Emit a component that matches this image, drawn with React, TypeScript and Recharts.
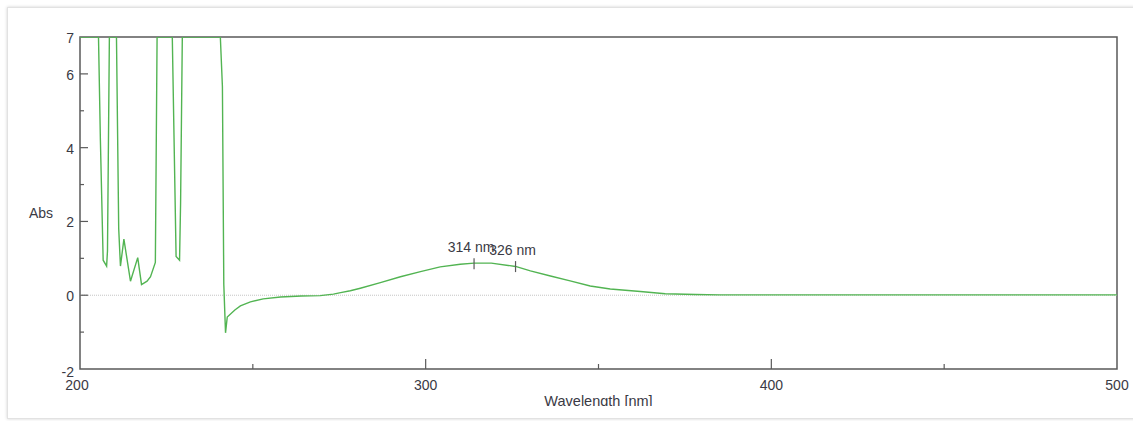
import { LineChart, Line, XAxis, YAxis, ReferenceLine, ReferenceArea, ReferenceDot } from 'recharts';

// absorbance spectrum, values (7 = detector saturation)
const wavelengths = [
  200, 205.35, 205.9, 206.7, 207.7, 207.95, 208.5, 210.55, 211.2, 211.7, 212.7, 214.6, 216.7, 217.8,
  219.4, 220.4, 221.8, 222.3, 226.7, 227.8, 228.8, 229.1, 229.6, 240.6, 241.2, 241.6, 242.1, 242.6,
  244.8, 246.4, 249.3, 253, 258, 264, 269.5, 273.3, 275.4, 278.2, 281.1, 286.9, 292.7, 298.5, 304.2,
  310, 314, 319, 326, 330.3, 336.1, 341.8, 347.6, 353.4, 362.1, 369.3, 378, 385.2, 400, 430, 460, 500,
];
const absorbance = [
  7, 7, 4.2, 0.95, 0.79, 1.2, 7, 7, 1.8, 0.79, 1.52, 0.38, 1.02, 0.29,
  0.38, 0.5, 0.89, 7, 7, 1.05, 0.95, 2.5, 7, 7, 5.66, 0.3, -1.02, -0.59,
  -0.4, -0.29, -0.18, -0.1, -0.05, -0.02, -0.01, 0.03, 0.07, 0.12, 0.19, 0.34, 0.5, 0.64, 0.77,
  0.84, 0.87, 0.87, 0.78, 0.66, 0.52, 0.39, 0.25, 0.17, 0.1, 0.04, 0.02, 0.01, 0.01, 0.01, 0.01, 0.01,
];

const peakWavelengths = [314, 326];
const peakAbsorbance = [0.87, 0.79];
const peakLabels = ['314 nm', '326 nm'];

const xTicks = [200, 250, 300, 350, 400, 450, 500];
const xLabels = [200, 300, 400, 500];
const xMajor = [300, 400];
const xMinor = [250, 350, 450];

const yTicks = [-2, -1, 0, 1, 2, 3, 4, 5, 6, 7];
const yLabels = [-2, 0, 2, 4, 6, 7];
const yMajor = [0, 2, 4, 6];
const yMinor = [-1, 1, 3, 5];

const data = wavelengths.map((wl, i) => ({ wl, abs: absorbance[i] }));

const FONT = '"Liberation Sans", Arial, sans-serif';
const TEXT = '#3a3a44';
const AXIS = '#5a5a5a';
const GREEN = '#52b452';

function XTick({ x, y, payload }: any) {
  const v = payload.value;
  const len = xMajor.includes(v) ? 10 : xMinor.includes(v) ? 5 : 0;
  return (
    <g>
      {len > 0 && <line x1={x} x2={x} y1={y} y2={y - len} stroke={AXIS} strokeWidth={1.2} />}
      {xLabels.includes(v) && (
        <text x={x - (v === 200 ? 3 : 0)} y={y + 16} textAnchor="middle" dominantBaseline="central"
          fontFamily={FONT} fontSize={14} fill={TEXT}>
          {v}
        </text>
      )}
    </g>
  );
}

function YTick({ x, y, payload }: any) {
  const v = payload.value;
  const len = yMajor.includes(v) ? 8 : yMinor.includes(v) ? 4 : 0;
  return (
    <g>
      {len > 0 && <line x1={x} x2={x + len} y1={y} y2={y} stroke={AXIS} strokeWidth={1.2} />}
      {yLabels.includes(v) && (
        <text x={x - 6} y={y + (v === -2 ? 3 : 1)} textAnchor="end" dominantBaseline="central"
          fontFamily={FONT} fontSize={14} fill={TEXT}>
          {v}
        </text>
      )}
    </g>
  );
}

function PeakMark(label: string) {
  return ({ cx, cy }: any) => (
    <g>
      <line x1={cx} x2={cx} y1={cy - 5} y2={cy + 6} stroke={AXIS} strokeWidth={1.2} />
      <text x={cx - 3} y={cy - 11} textAnchor="middle" fontFamily={FONT} fontSize={14} fill={TEXT}>
        {label}
      </text>
    </g>
  );
}

export default function App() {
  return (
    <div style={{ position: 'absolute', left: 0, top: 0, width: 1133, height: 421, background: '#fff', overflow: 'hidden' }}>
      <div
        style={{
          position: 'absolute', left: 7, top: 7, width: 1140, height: 410,
          border: '1px solid #e2e2e2', boxShadow: '0 0 3px rgba(0,0,0,0.18)', background: '#fff',
        }}
      >
        <div style={{ position: 'absolute', left: 0, top: 0, width: 1140, height: 398, overflow: 'hidden' }}>
          <div style={{ position: 'absolute', left: -8, top: -8 }}>
            <LineChart width={1133} height={421} data={data} margin={{ top: 37, right: 16, left: 0, bottom: 0 }}>
              <XAxis
                dataKey="wl"
                type="number"
                domain={[200, 500]}
                ticks={xTicks}
                interval={0}
                height={52}
                axisLine={false}
                tickLine={false}
                tickSize={0}
                tickMargin={0}
                tick={<XTick />}
                label={{ value: 'Wavelength [nm]', position: 'insideBottom', offset: 15, fill: TEXT, fontSize: 14.5, fontFamily: FONT }}
              />
              <YAxis
                type="number"
                domain={[-2, 7]}
                ticks={yTicks}
                interval={0}
                width={80}
                axisLine={false}
                tickLine={false}
                tickSize={0}
                tickMargin={0}
                tick={<YTick />}
                allowDataOverflow
                label={{ value: 'Abs', position: 'insideLeft', offset: 29, dy: 10, fill: TEXT, fontSize: 14, fontFamily: FONT }}
              />
              <ReferenceLine y={0} stroke="#c4c4c4" strokeDasharray="1 1" />
              <ReferenceArea x1={200} x2={500} y1={-2} y2={7} fill="none" stroke={AXIS} strokeWidth={1.5} />
              <Line
                type="linear"
                dataKey="abs"
                stroke={GREEN}
                strokeWidth={1.4}
                dot={false}
                isAnimationActive={false}
              />
              {peakWavelengths.map((wl, i) => (
                <ReferenceDot key={wl} x={wl} y={peakAbsorbance[i]} shape={PeakMark(peakLabels[i])} />
              ))}
            </LineChart>
          </div>
        </div>
      </div>
    </div>
  );
}
